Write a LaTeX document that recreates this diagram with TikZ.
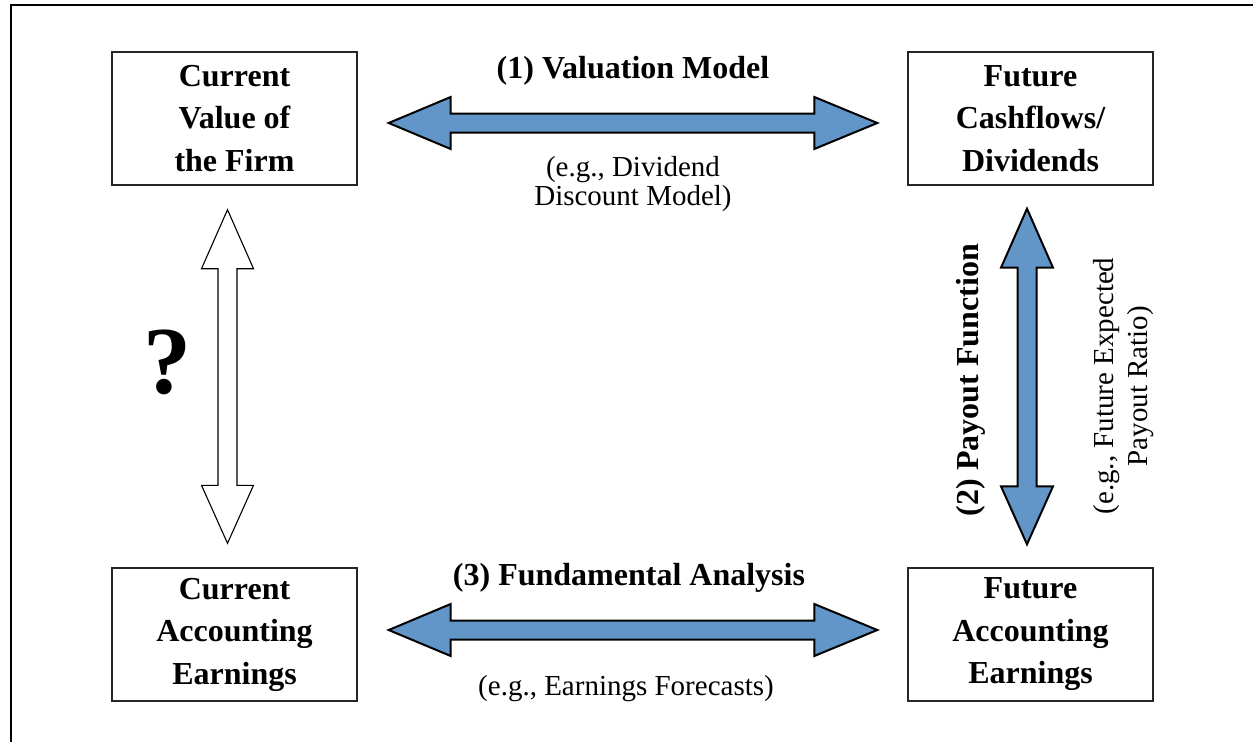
\documentclass[tikz,border=0pt]{standalone}
\usepackage{fontspec}
\setmainfont{Liberation Serif}
\usetikzlibrary{calc}
\definecolor{arrowblue}{RGB}{98,150,200}

% Horizontal double block arrow: style, left tip, right tip
\newcommand\hblock[3]{%
  \draw[#1] (#2) -- ($(#2)+(62,-26)$) -- ($(#2)+(62,-9.5)$)
    -- ($(#3)+(-63,-9.5)$) -- ($(#3)+(-63,-26)$) -- (#3)
    -- ($(#3)+(-63,26)$) -- ($(#3)+(-63,9.5)$)
    -- ($(#2)+(62,9.5)$) -- ($(#2)+(62,26)$) -- cycle;}
% Vertical double block arrow: style, top tip, bottom tip
\newcommand\vblock[3]{%
  \draw[#1] (#2) -- ($(#2)+(26,59)$) -- ($(#2)+(9.5,59)$)
    -- ($(#3)+(9.5,-58)$) -- ($(#3)+(26,-58)$) -- (#3)
    -- ($(#3)+(-26,-58)$) -- ($(#3)+(-9.5,-58)$)
    -- ($(#2)+(-9.5,59)$) -- ($(#2)+(-26,59)$) -- cycle;}

\tikzset{
  box/.style={draw=black!85, line width=1.4pt, minimum width=245pt,
    minimum height=133pt, inner sep=0pt, align=center,
    font=\fontsize{32}{42.5}\selectfont\bfseries},
  bluearrow/.style={draw=black, line width=2pt, fill=arrowblue, line join=miter},
  openarrow/.style={draw=black, line width=1.1pt, fill=white, line join=miter},
  heading/.style={font=\fontsize{32}{38}\selectfont\bfseries, inner sep=0pt},
  note/.style={font=\fontsize{29}{29}\selectfont, align=center, inner sep=0pt},
}

\begin{document}
\begin{tikzpicture}[x=1pt,y=-1pt]
\useasboundingbox (0,0) rectangle (1253,742);
\draw[line width=2.5pt, line join=miter] (11,742) -- (11,5) -- (1253,5);

% the four quantities
\node[box] (cv) at (234.5,118.5) {Current\\Value of\\the Firm};
\node[box] (fc) at (1030.5,118.5) {Future\\Cashflows/\\Dividends};
\node[box] (ca) at (234.5,634.5) {Current\\Accounting\\Earnings};
\node[box] (fa) at (1030.5,634.5) {Future\\Accounting\\Earnings};

% arrow end points
\coordinate (a1l) at ($(cv.east)+(31,4.5)$);
\coordinate (a1r) at ($(fc.west)+(-30,4.5)$);
\coordinate (a3l) at ($(ca.east)+(31,-4.5)$);
\coordinate (a3r) at ($(fa.west)+(-30,-4.5)$);
\coordinate (a2t) at ($(fc.south)+(-3.5,23)$);
\coordinate (a2b) at ($(fa.north)+(-3.5,-23)$);
\coordinate (a0t) at ($(cv.south)+(-7,24)$);
\coordinate (a0b) at ($(ca.north)+(-7,-24)$);

% links
\hblock{bluearrow}{a1l}{a1r}
\hblock{bluearrow}{a3l}{a3r}
\vblock{bluearrow}{a2t}{a2b}
\vblock{openarrow}{a0t}{a0b}

% labels
\node[heading, anchor=base] (l1) at (633,78) {(1) Valuation Model};
\node[note] (n1) at (633,184) {(e.g., Dividend\\Discount Model)};
\node[heading, anchor=base] (l3) at (629,585) {(3) Fundamental Analysis};
\node[note] (n3) at (626,689) {(e.g., Earnings Forecasts)};
\node[heading, rotate=90] (l2) at (971,380) {(2) Payout Function};
\node[note, rotate=90, font=\fontsize{29}{34}\selectfont] (n2) at (1124,386)
  {(e.g., Future Expected\\Payout Ratio)};
\node[font=\fontsize{96}{96}\selectfont\bfseries, inner sep=0pt] (q) at (167,362) {?};
\end{tikzpicture}
\end{document}
